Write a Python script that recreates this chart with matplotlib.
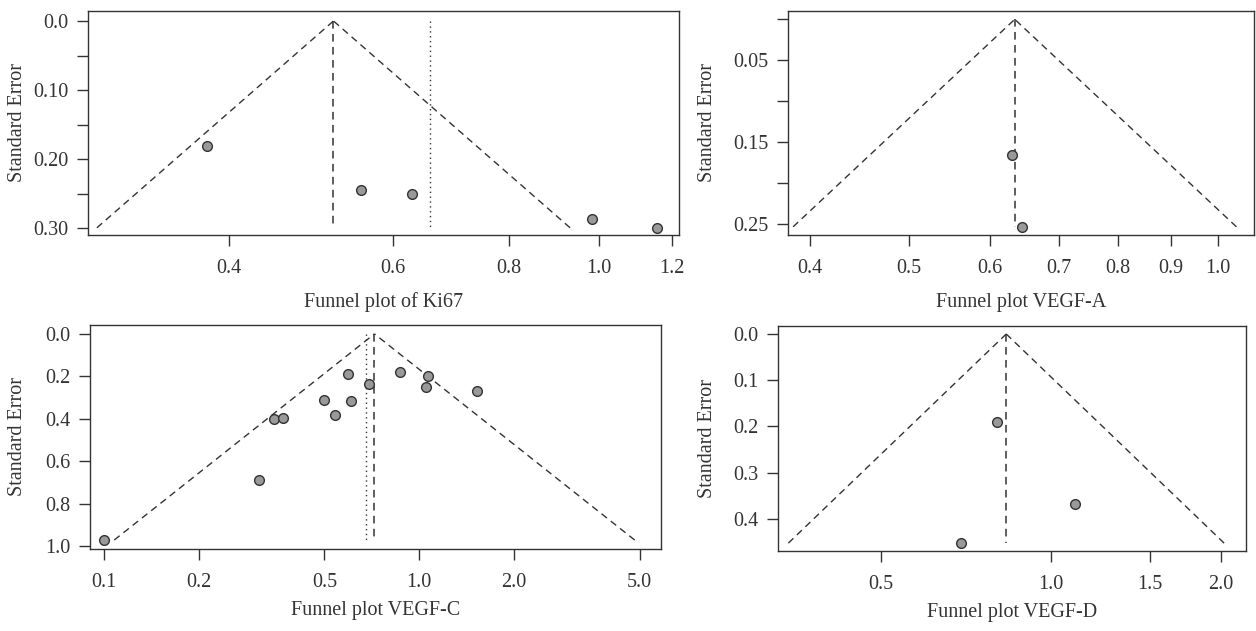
import numpy as np
import matplotlib
matplotlib.use('Agg')
import matplotlib.pyplot as plt

plt.rcParams['font.family'] = ['Liberation Serif', 'DejaVu Serif']
plt.rcParams['font.size'] = 14.5

# Ki67
ki67_or = [0.378, 0.554, 0.629, 0.983, 1.155]
ki67_se = [0.181, 0.245, 0.250, 0.287, 0.2996]
ki67_fixed = 0.518
ki67_random = 0.658

# VEGF-A
vegfa_or = [0.630, 0.645]
vegfa_se = [0.166, 0.254]
vegfa_fixed = 0.634

# VEGF-C
vegfc_or = [0.100, 0.311, 0.346, 0.370, 0.500, 0.541, 0.593, 0.608, 0.695, 0.872, 1.066, 1.051, 1.520]
vegfc_se = [0.970, 0.688, 0.400, 0.398, 0.309, 0.381, 0.188, 0.316, 0.235, 0.177, 0.200, 0.252, 0.268]
vegfc_fixed = 0.721
vegfc_random = 0.678

# VEGF-D
vegfd_or = [0.803, 0.695, 1.102]
vegfd_se = [0.190, 0.453, 0.368]
vegfd_fixed = 0.834

z = 1.96
ink = '#333333'

panels = [
    dict(rect=[0.0701, 0.6276, 0.4705, 0.355], x=ki67_or, se=ki67_se, fixed=ki67_fixed, random=ki67_random,
         xlim=(0.2817, 1.221), ylim=(0.31, -0.0145),
         xticks=[0.4, 0.6, 0.8, 1.0, 1.2], xlabels=['0.4', '0.6', '0.8', '1.0', '1.2'],
         yticks=[0, 0.05, 0.10, 0.15, 0.20, 0.25, 0.30], ylabels=['0.0', '', '0.10', '', '0.20', '', '0.30'],
         title='Funnel plot of Ki67', ylab_x=-0.1193, xlab_y=-0.301),
    dict(rect=[0.6274, 0.6276, 0.371, 0.355], x=vegfa_or, se=vegfa_se, fixed=vegfa_fixed, random=None,
         xlim=(0.381, 1.085), ylim=(0.264, -0.0102),
         xticks=[0.4, 0.5, 0.6, 0.7, 0.8, 0.9, 1.0], xlabels=['0.4', '0.5', '0.6', '0.7', '0.8', '0.9', '1.0'],
         yticks=[0, 0.05, 0.10, 0.15, 0.20, 0.25], ylabels=['', '0.05', '', '0.15', '', '0.25'],
         title='Funnel plot VEGF-A', ylab_x=-0.1727, xlab_y=-0.301),
    dict(rect=[0.0717, 0.130, 0.4546, 0.355], x=vegfc_or, se=vegfc_se, fixed=vegfc_fixed, random=vegfc_random,
         xlim=(0.0903, 5.85), ylim=(1.012, -0.042),
         xticks=[0.1, 0.2, 0.5, 1.0, 2.0, 5.0], xlabels=['0.1', '0.2', '0.5', '1.0', '2.0', '5.0'],
         yticks=[0, 0.2, 0.4, 0.6, 0.8, 1.0], ylabels=['0.0', '0.2', '0.4', '0.6', '0.8', '1.0'],
         title='Funnel plot VEGF-C', ylab_x=-0.127, xlab_y=-0.275),
    dict(rect=[0.6194, 0.1268, 0.3726, 0.3566], x=vegfd_or, se=vegfd_se, fixed=vegfd_fixed, random=None,
         xlim=(0.329, 2.215), ylim=(0.470, -0.0174),
         xticks=[0.5, 1.0, 1.5, 2.0], xlabels=['0.5', '1.0', '1.5', '2.0'],
         yticks=[0, 0.1, 0.2, 0.3, 0.4], ylabels=['0.0', '0.1', '0.2', '0.3', '0.4'],
         title='Funnel plot VEGF-D', ylab_x=-0.1506, xlab_y=-0.275),
]

fig = plt.figure(figsize=(12.56, 6.31), dpi=100)

for p in panels:
    ax = fig.add_axes(p['rect'])
    ax.set_xscale('log')
    se_max = max(p['se'])
    c = p['fixed']

    # funnel (pseudo 95% limits around the fixed estimate)
    se_line = np.array([se_max, 0.0])
    ax.plot(np.exp(np.log(c) - z * se_line), se_line, ls=(0, (5, 3.5)), color=ink, lw=1)
    ax.plot(np.exp(np.log(c) + z * se_line), se_line, ls=(0, (5, 3.5)), color=ink, lw=1)
    ax.plot([c, c], [0, se_max], ls=(0, (5, 3.5)), color=ink, lw=1.1)
    if p['random'] is not None:
        ax.plot([p['random'], p['random']], [0, se_max], ls=(0, (1, 2.5)), color=ink, lw=1)

    ax.plot(p['x'], p['se'], 'o', ms=7, mfc='#999999', mec=ink, mew=1, zorder=3)

    ax.set_xlim(p['xlim'])
    ax.set_ylim(p['ylim'])
    ax.minorticks_off()
    ax.set_xticks(p['xticks'], p['xlabels'])
    ax.set_yticks(p['yticks'], p['ylabels'])
    ax.tick_params(length=8, width=1, color=ink, labelcolor=ink, pad=6)
    ax.tick_params(axis='x', pad=9)
    for s in ax.spines.values():
        s.set_color(ink)
        s.set_linewidth(1)

    ax.set_ylabel('Standard Error', color=ink)
    ax.yaxis.set_label_coords(p['ylab_x'], 0.5)
    ax.yaxis.label.set_verticalalignment('center')
    ax.set_xlabel(p['title'], color=ink)
    ax.xaxis.set_label_coords(0.5, p['xlab_y'])
    ax.xaxis.label.set_verticalalignment('center')

fig.savefig('out.png', dpi=100)
